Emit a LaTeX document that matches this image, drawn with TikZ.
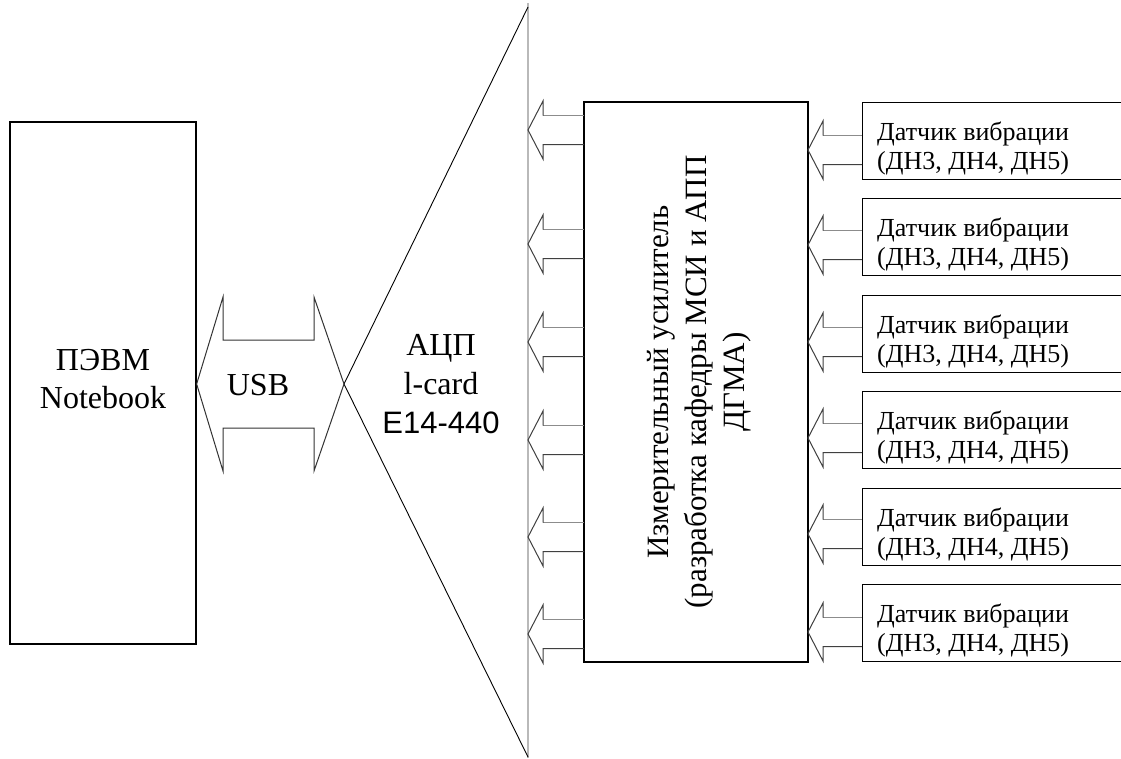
\documentclass[tikz,border=0pt]{standalone}
\usepackage{fontspec}
\setmainfont{Liberation Serif}
\newfontfamily\sansf{Liberation Sans}
\begin{document}
\begin{tikzpicture}[x=1pt,y=-1pt,
  box/.style={draw=black, line width=1.3pt, inner sep=0pt, fill=none},
  arr/.style={draw=black!75, line width=1pt, line join=miter},
  arrtop/.style={draw=black!45, line width=1pt},
  big/.style={font=\fontsize{32}{38}\selectfont, inner sep=0pt},
  sens/.style={font=\fontsize{26}{29}\selectfont, inner sep=0pt, anchor=base west}]
\useasboundingbox (0,0) rectangle (1121,758);
\fill[white] (0,0) rectangle (1121,758);

% ADC triangle and bus line
\coordinate (ttop) at (528,7);
\coordinate (tbot) at (528,757);
\coordinate (tleft) at (344,384);
\draw[gray!55, line width=2pt] (528,3) -- (528,758);
\draw[black, line width=0.9pt] (ttop) -- (tleft) -- (tbot);

% PC box
\node[box, minimum width=186pt, minimum height=522pt] (pc) at (103,383) {};
\node[big, anchor=base] (pc1) at (103,370) {ПЭВМ};
\node[big, anchor=base] (pc2) at (103,408) {Notebook};

% USB double arrow
\draw[arr, black!80] (pc.east |- tleft) -- (223,297) -- (223,340) -- (314,340) -- (314,297) -- (tleft)
  -- (314,471) -- (314,428) -- (223,428) -- (223,471) -- cycle;
\node[big, anchor=base] (usb) at (258,395) {USB};

% ADC text
\node[big, anchor=base] (adc1) at (441,355) {АЦП};
\node[big, anchor=base] (adc2) at (441,394) {l-card};
\node[big, anchor=base, font=\sansf\fontsize{31}{38}\selectfont] (adc3) at (441,433) {E14-440};

% Amplifier
\node[box, minimum width=224pt, minimum height=560pt] (amp) at (696,382) {};
\node[font=\fontsize{31}{38}\selectfont, rotate=90, align=center, inner sep=0pt] (amptext) at (699,382)
  {Измерительный усилитель\\(разработка кафедры МСИ и АПП\\ДГМА)};

\newcommand\fatarrow[3]{% tip x, tail x, y
  \draw[arrtop] (#2,#3-14.5) -- (#1+15,#3-14.5);
  \draw[arr] (#1+15,#3-14.5) -- (#1+15,#3-29) -- (#1,#3)
    -- (#1+15,#3+29) -- (#1+15,#3+14.5) -- (#2,#3+14.5);}

% arrows amplifier -> ADC bus
\foreach \yy in {130,244,342,440,537,634}{
  \fatarrow{528}{584}{\yy}
}

% sensors
\foreach \i/\yt/\ya in {1/102/150,2/198/245,3/295/342,4/391/438,5/488/534,6/584/632}{
  \node[box, anchor=north west, minimum width=280pt, minimum height=77pt] (s\i) at (862,\yt) {};
  \node[sens] (s\i a) at (877,\yt+38) {Датчик вибрации};
  \node[sens] (s\i b) at (877,\yt+67) {(ДН3, ДН4, ДН5)};
  \fatarrow{808}{862}{\ya}
}
\end{tikzpicture}
\end{document}
